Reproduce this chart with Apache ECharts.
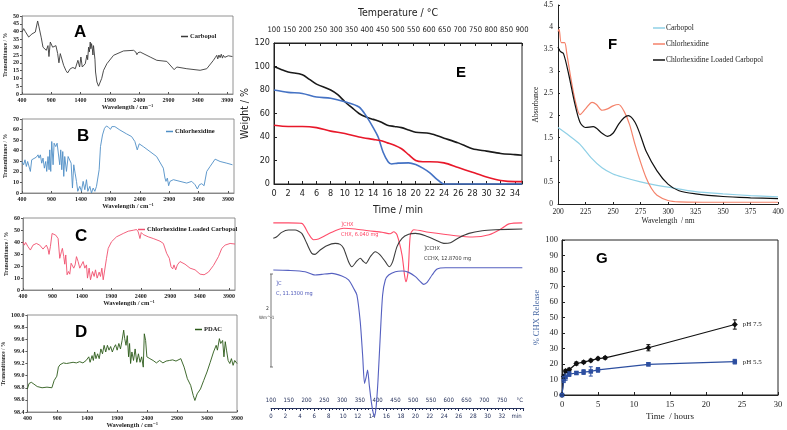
<!DOCTYPE html>
<html><head><meta charset="utf-8">
<script src="https://cdn.jsdelivr.net/npm/echarts@6/dist/echarts.min.js"></script>
<style>html,body{margin:0;padding:0;background:#fff}#c{width:787px;height:430px}</style>
</head><body><div id="c"></div>
<script>
// ---------- DATA ----------
const irTicks = [400, 900, 1400, 1900, 2400, 2900, 3400, 3900];
// FTIR spectra: [wavenumber, transmittance %]
const irCarbopol = [[400,39.7],[428,41.9],[457,40],[514,36.5],[570,38.5],[627,39.7],[644,40.5],[667,46.8],[690,43],[712,41.9],[729,36],[758,30],[781,29],[815,28],[843,31],[860,24],[883,33.3],[900,34],[923,30],[951,30.5],[979,31],[1008,26],[1030,20],[1053,25.9],[1082,24.8],[1110,18.4],[1150,15],[1178,13.5],[1224,16.2],[1269,17],[1309,16.2],[1354,21.6],[1383,17.3],[1405,23.7],[1428,17.3],[1451,18],[1479,19.4],[1508,25],[1520,22],[1536,30],[1550,27],[1564,33.3],[1575,29],[1587,32.3],[1600,29],[1610,25],[1620,31],[1633,30],[1645,22],[1655,14.1],[1678,7.7],[1706,5],[1735,6],[1760,10],[1792,15.2],[1848,19.4],[1962,24.8],[2132,27.6],[2303,28],[2340,27],[2360,25.2],[2380,26.5],[2416,26.9],[2587,23.7],[2700,21.6],[2871,20.9],[2956,17.3],[2996,15.6],[3041,17.3],[3212,16.2],[3439,15.2],[3552,16.2],[3666,21.6],[3700,23.5],[3723,24.8],[3740,22.5],[3760,25],[3780,23.3],[3800,25.5],[3820,23],[3836,24.8],[3860,23.5],[3893,23.7],[3920,24.5],[3950,24],[3990,24]];
const irChlorhexidine = [[400,29.8],[428,26.7],[451,31.4],[474,25.1],[496,29.8],[519,28.2],[542,20.4],[565,31.4],[587,33],[644,33.9],[672,36.1],[689,33],[712,36.1],[735,28.2],[757,33],[780,23.5],[803,29.8],[820,20.4],[842,34.5],[860,22],[871,40.8],[888,20.4],[905,48.7],[928,26.7],[945,47.1],[973,43.9],[996,47.1],[1018,45.5],[1041,26.7],[1058,40.8],[1075,22],[1092,39.2],[1109,15.7],[1126,34.5],[1155,20.4],[1183,34.5],[1211,34.5],[1234,28.2],[1257,4.7],[1279,26.7],[1302,18.8],[1325,11],[1347,1.6],[1381,6.3],[1410,1.6],[1438,11],[1467,3.1],[1495,12.6],[1518,1.6],[1552,6.3],[1580,0],[1608,4.7],[1637,1.6],[1665,6.3],[1693,6.9],[1710,22],[1733,43.9],[1767,54.9],[1801,61.2],[1835,63.4],[1869,62.1],[1903,60.3],[1926,62.8],[1977,62.8],[2062,59.6],[2176,55.9],[2261,53.4],[2317,48.7],[2357,40.8],[2391,46.5],[2459,43.9],[2573,39.2],[2686,34.5],[2800,23.5],[2828,14.1],[2845,11],[2868,14.1],[2890,6.9],[2913,11],[2970,12.6],[3083,11],[3197,9.4],[3282,11],[3339,7.8],[3378,3.8],[3412,7.8],[3452,8.8],[3492,6.9],[3537,20.4],[3594,25.1],[3679,32],[3764,29.8],[3878,28.2],[3974,26.7]];
const irLoaded = [[400,40.2],[423,37.4],[445,39.6],[485,36.1],[525,33.3],[570,37.4],[627,38.8],[684,37.4],[712,36.1],[740,34.1],[769,35.5],[797,37.4],[825,34.1],[842,29.7],[865,36.1],[894,47.1],[922,48.4],[956,45.7],[996,42.9],[1024,26.4],[1052,31.9],[1069,34.7],[1092,27.8],[1109,21.5],[1126,29.2],[1149,12.7],[1172,15.4],[1194,13.2],[1217,22.3],[1240,23.7],[1262,18.2],[1285,20.9],[1308,27.8],[1336,23.7],[1364,18.2],[1393,16.8],[1421,23.7],[1450,18.2],[1478,20.9],[1495,9.9],[1523,18.2],[1546,8.5],[1580,15.4],[1608,11.3],[1631,16.8],[1659,9.9],[1693,14.9],[1716,11.3],[1739,18.2],[1762,8.5],[1790,9.9],[1818,26.4],[1847,34.7],[1903,40.2],[1988,44.3],[2102,47.1],[2187,49],[2272,49.8],[2329,50.4],[2357,48.4],[2386,42.9],[2408,47.9],[2442,46.2],[2527,44.3],[2612,42.9],[2726,40.7],[2783,38.8],[2839,30.6],[2885,26.4],[2913,19.5],[2942,17.6],[2964,20.9],[2993,16.8],[3021,20.9],[3066,23.7],[3151,21.5],[3237,18.2],[3322,16.8],[3407,13.2],[3475,12.7],[3549,14.9],[3634,20.4],[3719,27.8],[3776,34.7],[3832,37.4],[3917,38.8],[4000,38.3]];
const irPDAC = [[400,98.78],[427,98.87],[465,98.89],[509,98.86],[564,98.82],[645,98.80],[727,98.81],[809,98.80],[836,98.78],[847,98.92],[869,98.95],[891,98.99],[918,99.14],[945,99.18],[972,99.17],[1000,99.21],[1054,99.20],[1109,99.21],[1163,99.22],[1218,99.21],[1272,99.23],[1327,99.21],[1381,99.25],[1425,99.31],[1447,99.22],[1480,99.33],[1501,99.25],[1523,99.39],[1545,99.28],[1572,99.36],[1599,99.28],[1627,99.44],[1654,99.36],[1681,99.50],[1708,99.39],[1736,99.50],[1763,99.42],[1790,99.48],[1818,99.39],[1845,99.46],[1872,99.51],[1899,99.42],[1927,99.53],[1954,99.44],[1981,99.58],[2008,99.75],[2025,99.61],[2047,99.50],[2068,99.66],[2090,99.31],[2106,99.53],[2123,99.20],[2145,99.39],[2172,99.25],[2199,99.44],[2226,99.22],[2254,99.36],[2281,99.22],[2308,99.31],[2335,99.14],[2352,99.69],[2374,99.58],[2395,99.31],[2445,99.28],[2499,99.25],[2554,99.21],[2608,99.25],[2663,99.21],[2717,99.24],[2772,99.25],[2826,99.26],[2881,99.24],[2962,99.28],[3017,99.14],[3071,98.95],[3126,98.84],[3170,98.67],[3197,98.59],[3235,98.70],[3290,98.78],[3344,98.92],[3399,99.06],[3453,99.22],[3508,99.39],[3552,99.50],[3573,99.42],[3606,99.61],[3628,99.53],[3660,99.58],[3682,99.31],[3704,99.56],[3725,99.42],[3752,99.25],[3780,99.20],[3807,99.28],[3835,99.17],[3862,99.25],[3900,99.20]];

// TGA: [time min, weight %]
const tgaLoaded = [[0,100],[1,97.5],[2,95.3],[4,93],[5,89],[6,85],[8,80],[9,76],[10,70],[11,65],[12,60],[13,57],[14,55],[15,53],[16,50],[17,49],[18,48],[19,46],[20,44],[22,43],[24,39],[26,35],[28,30],[30,28],[32,26],[34,25],[35,24.5]];
const tgaCarbopol = [[0,80],[2,78],[4,77],[6,74],[8,73],[10,70],[12,65.5],[13,58],[14,48],[14.7,40],[15.4,27],[16.1,19],[16.6,17],[17.5,17.8],[19,18],[20,16.5],[21,13.5],[22,9.5],[23,4],[24,0],[35,0]];
const tgaChlorhexidine = [[0,50],[2,49],[4,49],[6,48],[8,45],[10,43],[12,40],[14,38],[15,37],[16,35],[17,33],[18,30],[19,25],[20,20],[21,19],[22,19],[24,18],[26,14],[28,10],[30,6],[32,3],[34,2],[35,2]];

// DSC: [time min, heat flow (arbitrary units)]
const dscCHX = [[0.32,18.7],[2.4,18.7],[4.26,18.65],[5.19,17.6],[5.88,17.0],[6.57,17.07],[7.73,17.5],[8.89,17.9],[10.05,18.15],[11.67,18.08],[13.5,17.9],[15.37,17.75],[16.5,17.6],[17.0,17.8],[17.45,17.5],[18.15,15.45],[18.5,13.4],[18.7,12.75],[19.0,13.8],[19.3,17.5],[19.77,18.0],[21.85,17.75],[25.55,17.4],[27.9,17.27],[30.2,17.5],[32.0,18.15],[32.96,18.6],[34.8,18.7]];
const dscCCHX = [[0.32,17.14],[0.79,17.3],[1.48,17.74],[2.41,17.98],[3.33,17.98],[4.26,17.64],[4.95,16.63],[5.65,15.62],[6.11,15.52],[6.81,15.96],[7.73,16.4],[8.89,16.63],[9.58,16.53],[10.05,16.13],[10.74,14.78],[11.2,14.27],[11.9,14.85],[12.36,15.12],[12.82,14.78],[13.15,14.61],[13.75,15.28],[14.44,15.79],[15.14,15.45],[15.83,14.78],[16.39,14.27],[16.85,14.78],[17.45,16.3],[18.15,17.14],[19.07,17.54],[20.0,17.64],[21.39,17.4],[22.78,16.97],[23.94,16.63],[24.86,16.7],[26.02,17.2],[27.41,17.64],[29.26,17.91],[31.11,18.0],[34.81,18.08]];
const dscC = [[0.32,13.94],[2.41,13.9],[4.72,13.77],[6.11,13.43],[7.04,13.5],[8.43,13.6],[9.81,13.33],[10.74,12.93],[11.44,12.09],[11.9,11.41],[12.36,8.72],[12.69,5.35],[12.96,2.49],[13.19,3.16],[13.38,3.84],[13.61,2.32],[13.89,0.64],[14.12,-0.37],[14.31,-0.88],[14.54,-0.03],[14.81,2.66],[15.14,7.37],[15.46,11.41],[15.83,12.93],[16.3,13.43],[17.22,13.77],[18.15,13.84],[19.07,13.7],[20.0,13.27],[20.69,12.76],[21.16,12.49],[21.62,12.69],[22.31,13.43],[23.01,14.04],[24.17,14.17],[34.81,14.17]];

// UV-Vis: [wavelength nm, absorbance]
const uvCarbopol = [[200,1.73],[210,1.55],[220,1.35],[230,1.05],[240,0.82],[250,0.68],[260,0.6],[275,0.5],[290,0.42],[300,0.38],[325,0.28],[350,0.23],[375,0.19],[400,0.16]];
const uvChlorhexidine = [[200,3.9],[201,3.95],[203,3.65],[206,3.65],[208,3.4],[212,2.8],[216,2.3],[220,2.02],[225,2.15],[231,2.3],[235,2.25],[240,2.12],[245,2.15],[250,2.22],[255,2.25],[260,2.1],[265,1.8],[270,1.35],[275,0.95],[280,0.6],[285,0.35],[290,0.2],[300,0.08],[310,0.05],[350,0.04],[400,0.04]];
const uvLoaded = [[200,3.55],[202,3.45],[205,3.4],[210,2.9],[215,2.3],[220,1.85],[225,1.73],[232,1.75],[240,1.6],[245,1.53],[250,1.6],[255,1.8],[260,1.95],[264,2.0],[270,1.85],[275,1.55],[280,1.2],[290,0.75],[300,0.45],[310,0.3],[325,0.23],[350,0.17],[375,0.14],[400,0.12]];

// Release: time (h), % CHX release, error
const gTime75 = [0,0.25,0.5,1,2,3,4,5,6,12,24];
const gRel75  = [0,12,15.5,16.3,20.3,21.2,22.3,23.5,24,30.5,45.5];
const gErr75  = [0,1.2,1,1,1,0.8,0.8,0.8,0.8,2,3];
const gTime55 = [0,0.25,0.5,1,2,3,4,5,12,24];
const gRel55  = [0,10,11.5,13.5,14.2,14.8,15.2,16.2,19.8,21.5];
const gErr55  = [0,2,2,1.5,1,1.5,3,1.5,1,1.5];

// ---------- CHART ----------
const SERIF = 'Liberation Serif, DejaVu Serif, serif';
const SANS = 'Liberation Sans, Arial, sans-serif';
const NARROW = 'Liberation Sans Narrow, DejaVu Sans Condensed, Liberation Sans, sans-serif';

const irGrids = [
  {left:22, top:16, width:211, height:78},
  {left:22, top:119, width:212, height:74},
  {left:23, top:218, width:212, height:72},
  {left:23, top:315, width:214, height:97}
];
function irX(gi, max){
  return {type:'value', gridIndex:gi, min:400, max:max,
    name:'Wavelength / cm\u207B\u00B9', nameLocation:'middle', nameGap:10,
    nameTextStyle:{fontFamily:SERIF,fontSize:6.5,fontWeight:'bold',color:'#222'},
    axisLine:{show:true,lineStyle:{color:'#777',width:0.8}},
    axisTick:{show:true,inside:true,length:2,customValues:irTicks,lineStyle:{color:'#555'}},
    axisLabel:{customValues:irTicks,fontFamily:SERIF,fontSize:6,fontWeight:'bold',color:'#222',margin:3,formatter:v=>String(v)},
    splitLine:{show:false}};
}
function irY(gi, min, max, interval, gap, fmt){
  return {type:'value', gridIndex:gi, min:min, max:max, interval:interval,
    name:'Transmittance / %', nameLocation:'middle', nameGap:gap,
    nameTextStyle:{fontFamily:SERIF,fontSize:5.5,fontWeight:'bold',color:'#222'},
    axisLine:{show:true,lineStyle:{color:'#777',width:0.8}},
    axisTick:{show:true,length:2,lineStyle:{color:'#555'}},
    axisLabel:{fontFamily:SERIF,fontSize:6,fontWeight:'bold',color:'#222',margin:3,formatter:fmt||(v=>String(v))},
    splitLine:{show:false}};
}
function line(name, data, color, xi, yi, w, smooth){
  return {type:'line', name:name, data:data, xAxisIndex:xi, yAxisIndex:yi, color:color,
    showSymbol:false, symbol:'none', smooth:smooth||false, clip:false,
    lineStyle:{color:color,width:w}, emphasis:{disabled:true}};
}
function errSeries(times, vals, errs, color, xi, yi){
  const data = times.map((t,i)=>[t, vals[i], errs[i]]);
  return {type:'custom', xAxisIndex:xi, yAxisIndex:yi, data:data, z:4,
    renderItem:function(params, api){
      const x=api.value(0), y=api.value(1), e=api.value(2);
      const lo=api.coord([x,y-e]), hi=api.coord([x,y+e]); const w=2;
      const st={stroke:color,lineWidth:1};
      return {type:'group', children:[
        {type:'line',shape:{x1:lo[0],y1:lo[1],x2:hi[0],y2:hi[1]},style:st},
        {type:'line',shape:{x1:lo[0]-w,y1:lo[1],x2:lo[0]+w,y2:lo[1]},style:st},
        {type:'line',shape:{x1:hi[0]-w,y1:hi[1],x2:hi[0]+w,y2:hi[1]},style:st}]};
    }};
}
const legendNames = {irCarbopol:'Carbopol', irChlorhexidine:'Chlorhexidine', irLoaded:'Chlorhexidine Loaded Carbopol', irPDAC:'PDAC'};
function irLegend(name, left, top){
  return {data:[name], left:left, top:top, icon:'rect', itemWidth:7, itemHeight:1.5, itemGap:2,
    selectedMode:false, formatter:n=>legendNames[n],
    textStyle:{fontFamily:SERIF,fontSize:6.5,fontWeight:'bold',color:'#222',padding:[0,0,0,-3]}};
}
const letter = (t,l,tp,s)=>({text:t,left:l,top:tp,padding:0,textStyle:{fontFamily:SANS,fontWeight:'bold',fontSize:s,color:'#000'}});

const eAxisLab = {fontFamily:NARROW,fontSize:9,color:'#222'};
const dscCol = '#24305a';

const option = {
  animation:false,
  backgroundColor:'#fff',
  textStyle:{fontFamily:SERIF},
  title:[letter('A',74,24,17),letter('B',77,128,17),letter('C',75,228,17),letter('D',75,324,17),
         letter('E',456,65,15),letter('F',608,37,15),letter('G',596,251,15)],
  grid:[...irGrids.map(g=>Object.assign({show:true,borderColor:'#777',borderWidth:0.8},g)),
    {left:274, top:43, width:248, height:141, show:true, borderColor:'#222', borderWidth:1},
    {left:271, top:210, width:252.7, height:198},
    {left:558, top:5, width:220, height:199},
    {left:562, top:240, width:216, height:155, show:true, borderColor:'#222', borderWidth:1}],
  xAxis:[
    irX(0,4000), irX(1,4000), irX(2,4000), irX(3,3900),
    {type:'value', gridIndex:4, min:0, max:35, interval:2, position:'bottom',
      name:'Time / min', nameLocation:'middle', nameGap:21, nameTextStyle:{fontFamily:NARROW,fontSize:10.5,color:'#222'},
      axisLine:{lineStyle:{color:'#222'}}, axisTick:{inside:true,length:3,lineStyle:{color:'#222'}},
      axisLabel:Object.assign({margin:5,formatter:v=>(v%2===0?String(v):'')},eAxisLab), splitLine:{show:false}},
    {type:'value', gridIndex:4, min:100, max:900, interval:50, position:'top',
      name:'Temperature / \u00B0C', nameLocation:'middle', nameGap:24, nameTextStyle:{fontFamily:NARROW,fontSize:10.5,color:'#222'},
      axisLine:{lineStyle:{color:'#222'}}, axisTick:{inside:true,length:3,lineStyle:{color:'#222'}},
      axisLabel:{fontFamily:NARROW,fontSize:7.6,color:'#222',margin:9,hideOverlap:false,interval:0}, splitLine:{show:false}},
    {type:'value', gridIndex:5, min:0, max:35, interval:2, position:'bottom',
      axisLine:{onZero:false,lineStyle:{color:dscCol,width:1}}, axisTick:{length:3,lineStyle:{color:dscCol}},
      minorTick:{show:true,splitNumber:4,length:2,lineStyle:{color:dscCol}},
      axisLabel:{fontFamily:NARROW,fontSize:6,color:dscCol,margin:5,formatter:v=>(v===34?'min':(v%2===0?String(v):''))},
      splitLine:{show:false}},
    {type:'value', gridIndex:5, min:100, max:810.9, interval:50, position:'bottom',
      axisLine:{show:false}, axisTick:{show:false},
      axisLabel:{inside:true,fontFamily:NARROW,fontSize:6,color:dscCol,margin:5,formatter:v=>(v===800?'\u00B0C':(v%50===0?String(v):''))},
      splitLine:{show:false}},
    {type:'value', gridIndex:6, min:200, max:400, interval:25,
      name:'Wavelength  / nm', nameLocation:'middle', nameGap:13, nameTextStyle:{fontFamily:SERIF,fontSize:7.5,color:'#222'},
      axisLine:{lineStyle:{color:'#222'}}, axisTick:{inside:true,length:2,lineStyle:{color:'#222'}},
      axisLabel:{fontFamily:SERIF,fontSize:7.5,color:'#222',margin:4}, splitLine:{show:false}},
    {type:'value', gridIndex:7, min:0, max:30, interval:5,
      name:'Time  / hours', nameLocation:'middle', nameGap:17, nameTextStyle:{fontFamily:SERIF,fontSize:9,color:'#222'},
      axisLine:{lineStyle:{color:'#222'}}, axisTick:{inside:true,length:3,lineStyle:{color:'#222'}},
      axisLabel:{fontFamily:SERIF,fontSize:8.5,color:'#222',margin:5}, splitLine:{show:false}}
  ],
  yAxis:[
    irY(0,0,50,5,13), irY(1,0,70,10,13), irY(2,0,60,10,13), irY(3,98.4,100,0.2,16,v=>v.toFixed(1)),
    {type:'value', gridIndex:4, min:0, max:120, interval:20,
      name:'Weight / %', nameLocation:'middle', nameGap:19, nameTextStyle:{fontFamily:NARROW,fontSize:10.5,color:'#222'},
      axisLine:{lineStyle:{color:'#222'}}, axisTick:{inside:true,length:3,lineStyle:{color:'#222'}},
      axisLabel:Object.assign({margin:4},eAxisLab), splitLine:{show:false}},
    {type:'value', gridIndex:5, min:0, max:20, show:false},
    {type:'value', gridIndex:6, min:0, max:4.5, interval:0.5,
      name:'Absorbance', nameLocation:'middle', nameGap:15, nameTextStyle:{fontFamily:SERIF,fontSize:7.5,color:'#222'},
      axisLine:{lineStyle:{color:'#222'}}, axisTick:{inside:true,length:2,lineStyle:{color:'#222'}},
      axisLabel:{fontFamily:SERIF,fontSize:7.5,color:'#222',margin:5}, splitLine:{show:false}},
    {type:'value', gridIndex:7, min:0, max:100, interval:10,
      name:'% CHX Release', nameLocation:'middle', nameGap:17, nameTextStyle:{fontFamily:SERIF,fontSize:8.5,color:'#4a6aa5'},
      axisLine:{lineStyle:{color:'#222'}}, axisTick:{inside:true,length:3,lineStyle:{color:'#222'}},
      axisLabel:{fontFamily:SERIF,fontSize:8.5,color:'#222',margin:4}, splitLine:{show:false}}
  ],
  legend:[
    irLegend('irCarbopol',176,28), irLegend('irChlorhexidine',161,123),
    irLegend('irLoaded',133,221), irLegend('irPDAC',190,321),
    {data:['Carbopol','Chlorhexidine','Chlorhexidine Loaded Carbopol'], orient:'vertical', left:648, top:19,
      icon:'rect', itemWidth:12, itemHeight:1.5, itemGap:8, selectedMode:false,
      textStyle:{fontFamily:SERIF,fontSize:7.5,color:'#222',padding:[0,0,0,-4]}}
  ],
  graphic:[
    {type:'text', left:341, top:222, style:{text:']CHX', fill:'#ff4060', font:'5.5px '+NARROW}},
    {type:'text', left:341, top:232, style:{text:'CHX, 6.040 mg', fill:'#ff4060', font:'5.5px '+NARROW}},
    {type:'text', left:424, top:246, style:{text:']CCHX', fill:'#333', font:'5.5px '+NARROW}},
    {type:'text', left:424, top:256, style:{text:'CCHX, 12.8700 mg', fill:'#333', font:'5.5px '+NARROW}},
    {type:'text', left:276, top:281, style:{text:']C', fill:'#4a55b8', font:'5.5px '+NARROW}},
    {type:'text', left:276, top:291, style:{text:'C, 11.1300 mg', fill:'#4a55b8', font:'5.5px '+NARROW}},
    {type:'line', shape:{x1:271,y1:274,x2:271,y2:367}, style:{stroke:'#555',lineWidth:0.8}},
    {type:'line', shape:{x1:270,y1:274,x2:273,y2:274}, style:{stroke:'#555',lineWidth:0.8}},
    {type:'line', shape:{x1:270,y1:367,x2:273,y2:367}, style:{stroke:'#555',lineWidth:0.8}},
    {type:'text', left:266, top:306, style:{text:'2', fill:'#333', font:'5px '+NARROW}},
    {type:'text', left:259, top:315, style:{text:'Wm^-1', fill:'#333', font:'4.5px '+NARROW}}
  ],
  series:[
    line('irCarbopol', irCarbopol, '#3a3a3a', 0, 0, 0.9),
    line('irChlorhexidine', irChlorhexidine, '#4f8fc6', 1, 1, 0.9),
    line('irLoaded', irLoaded, '#f0506e', 2, 2, 0.9),
    line('irPDAC', irPDAC, '#2b5a18', 3, 3, 0.9),
    line('TGA Loaded', tgaLoaded, '#1a1a1a', 4, 4, 1.6, 0.3),
    line('TGA Carbopol', tgaCarbopol, '#4472c4', 4, 4, 1.6, 0.3),
    line('TGA CHX', tgaChlorhexidine, '#e8182a', 4, 4, 1.6, 0.3),
    line('DSC CHX', dscCHX, '#ff4d6a', 6, 5, 1.1, 0.25),
    line('DSC CCHX', dscCCHX, '#3c3c3c', 6, 5, 1.1, 0.25),
    line('DSC C', dscC, '#5560c0', 6, 5, 1.1, 0.25),
    line('Carbopol', uvCarbopol, '#8fd0e6', 8, 6, 1.2, 0.3),
    line('Chlorhexidine', uvChlorhexidine, '#f4826a', 8, 6, 1.2, 0.3),
    line('Chlorhexidine Loaded Carbopol', uvLoaded, '#111', 8, 6, 1.2, 0.3),
    Object.assign(line('pH 7.5', gTime75.map((t,i)=>[t,gRel75[i]]), '#111', 9, 7, 1.2), {
      showSymbol:true, symbol:'diamond', symbolSize:6,
      endLabel:{show:true, formatter:'pH 7.5', distance:8, fontFamily:SERIF, fontSize:7, color:'#222'}}),
    Object.assign(line('pH 5.5', gTime55.map((t,i)=>[t,gRel55[i]]), '#2d4fa0', 9, 7, 1.2), {
      showSymbol:true, symbol:'rect', symbolSize:4.5,
      endLabel:{show:true, formatter:'pH 5.5', distance:8, fontFamily:SERIF, fontSize:7, color:'#222'}}),
    errSeries(gTime75, gRel75, gErr75, '#111', 9, 7),
    errSeries(gTime55, gRel55, gErr55, '#2d4fa0', 9, 7)
  ]
};
const chart = echarts.init(document.getElementById('c'), null, {renderer:'canvas'});
chart.setOption(option);
</script>
</body></html>
